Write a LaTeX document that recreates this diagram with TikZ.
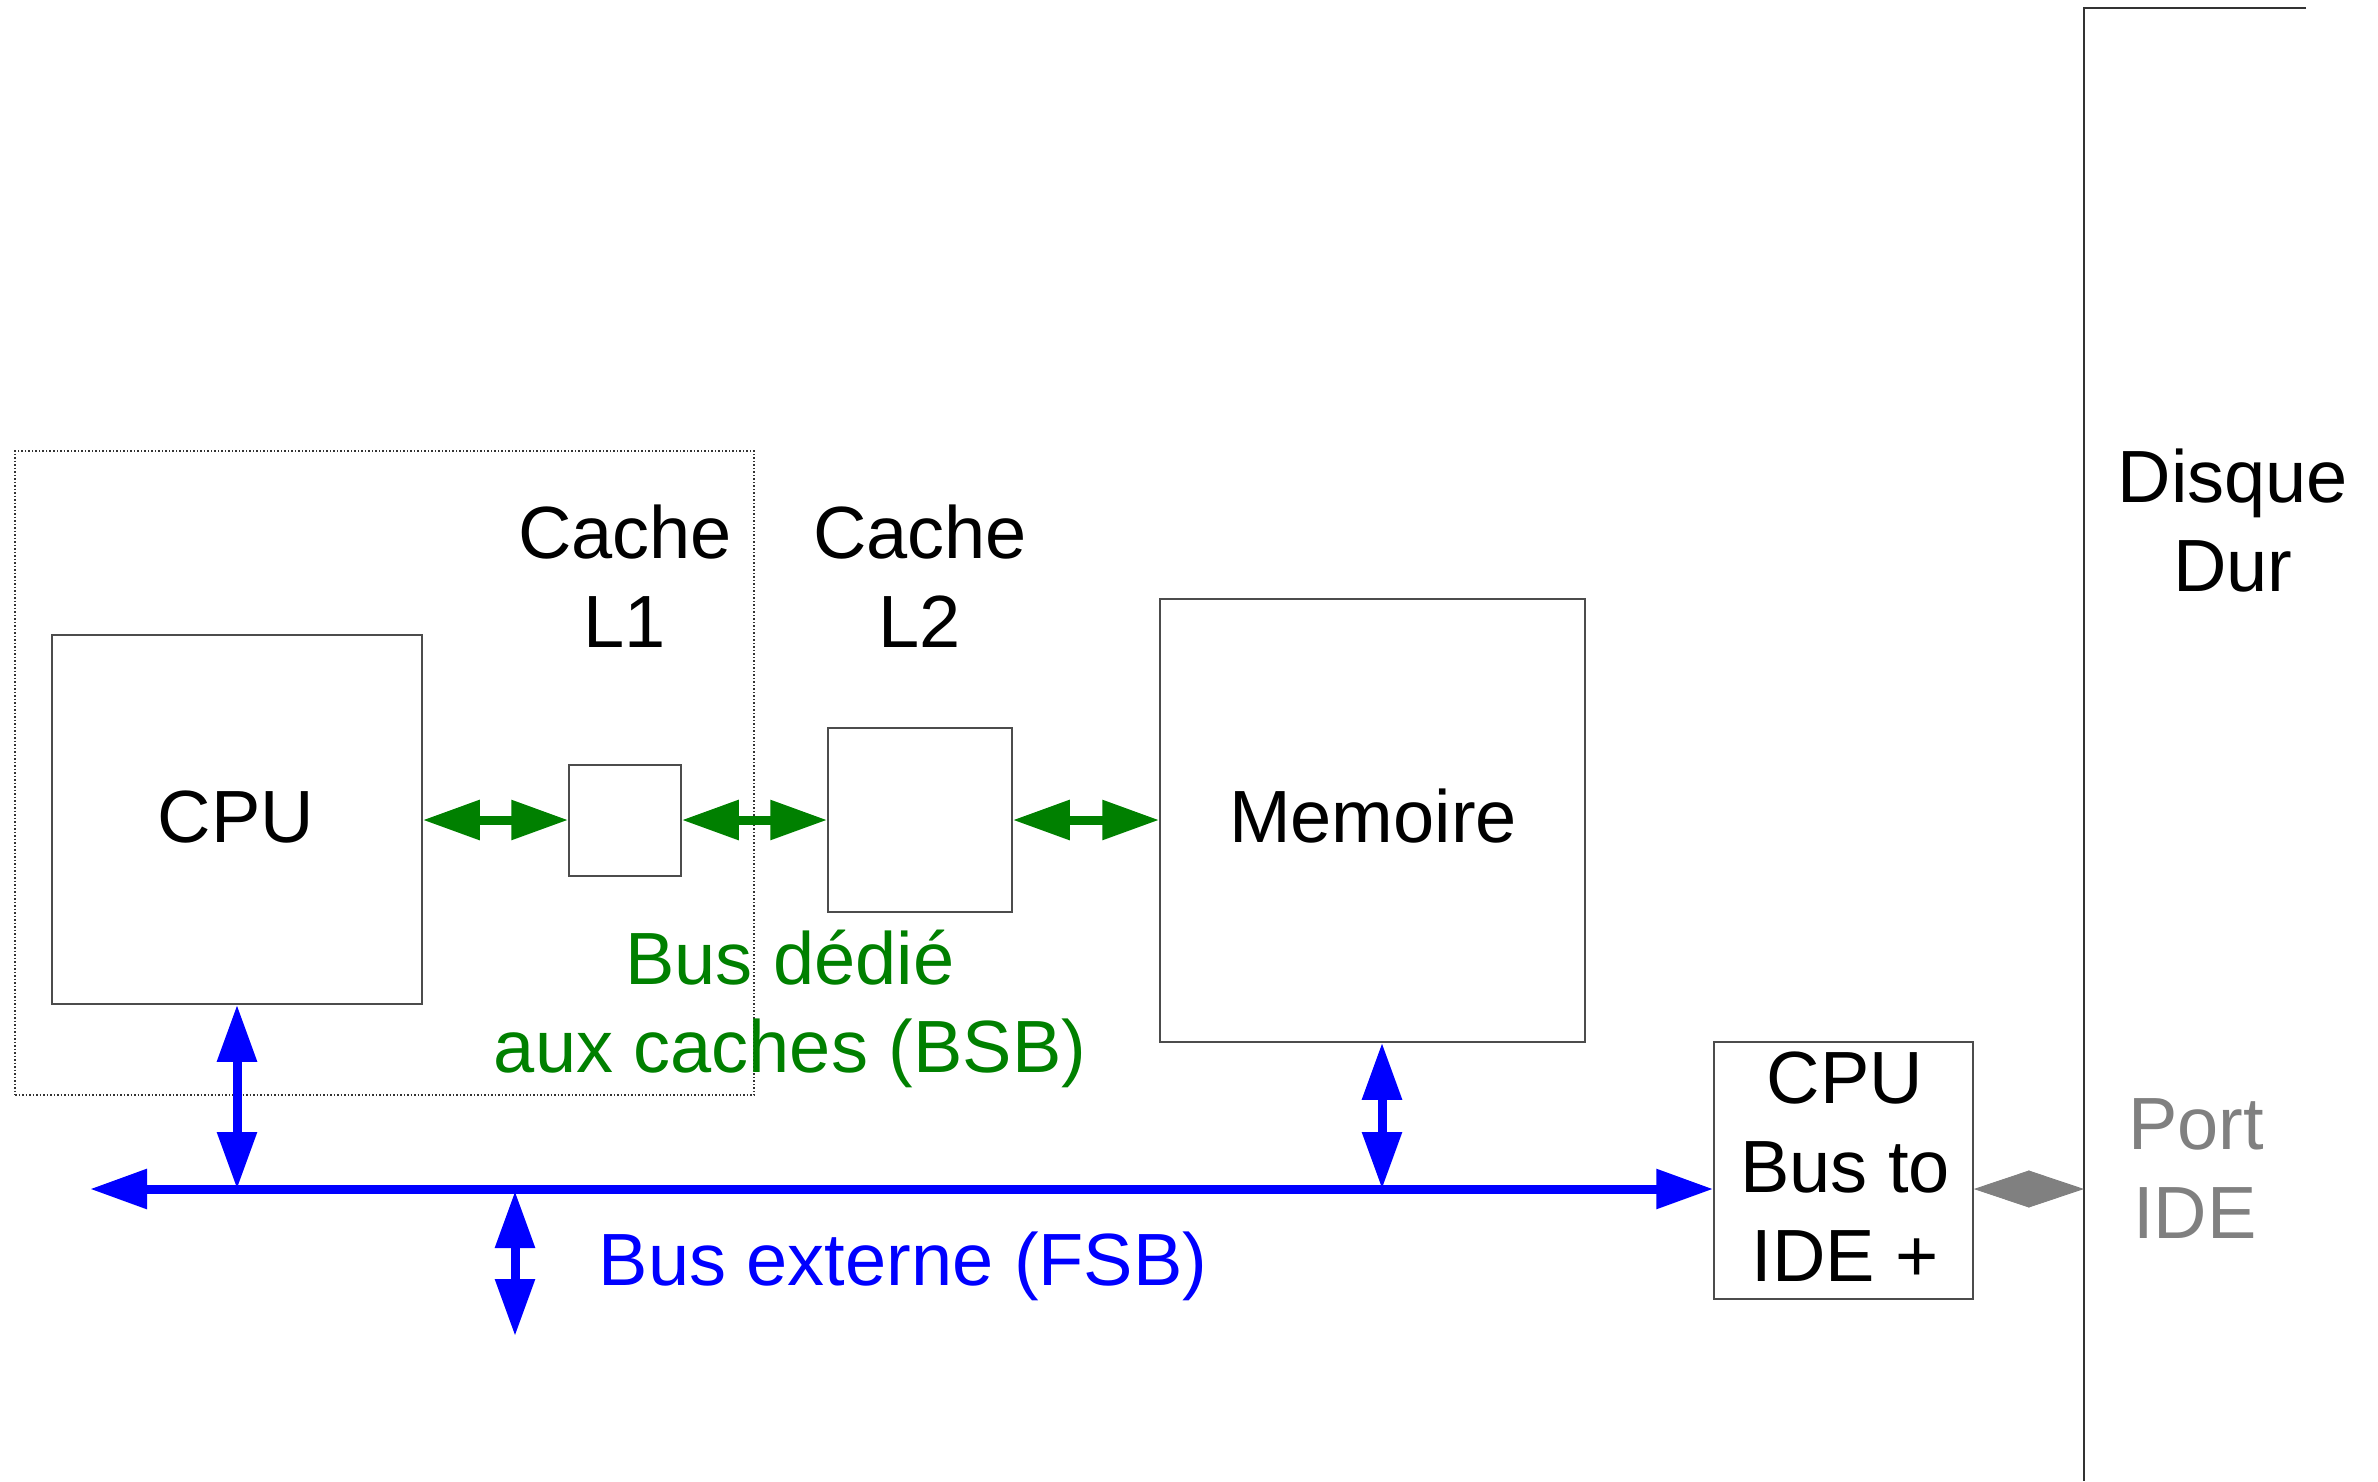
\documentclass[tikz,border=0pt]{standalone}
\usepackage{fontspec}
\setmainfont{Liberation Sans}
\usetikzlibrary{arrows.meta}
\definecolor{busblue}{RGB}{0,0,255}
\definecolor{bsbgreen}{RGB}{0,128,0}
\definecolor{idegray}{RGB}{128,128,128}
\begin{document}
\begin{tikzpicture}[x=1pt,y=1pt,
  box/.style={draw=black!70, line width=1.5pt, inner sep=0pt},
  lbl/.style={inner sep=0pt, anchor=base, font=\fontsize{74}{89}\selectfont},
  bigarrow/.style={line width=9pt, arrows={Triangle[length=57pt,width=38pt]-Triangle[length=57pt,width=38pt]}},
  greenarrow/.style={bigarrow, draw=bsbgreen, fill=bsbgreen},
  bluearrow/.style={bigarrow, draw=busblue, fill=busblue},
  greyarrow/.style={line width=1pt, draw=idegray, fill=idegray, arrows={Triangle[length=55.5pt,width=37pt]-Triangle[length=55.5pt,width=37pt]}}
]
\useasboundingbox (0,0) rectangle (2378,-1481);

% dotted frame round the processor
\node[draw=black!80, dotted, line width=1.5pt, inner sep=0pt, minimum width=739pt, minimum height=644pt] (frame) at (384.5,-773) {};

% boxes
\node[box, minimum width=370pt, minimum height=369pt] (cpu) at (237,-819.5) {};
\node[box, minimum width=112pt, minimum height=111pt] (l1) at (625,-820.5) {};
\node[box, minimum width=184pt, minimum height=184pt] (l2) at (920,-820) {};
\node[box, minimum width=425pt, minimum height=443pt] (mem) at (1372.5,-820.5) {};
\node[box, minimum width=259pt, minimum height=257pt] (ide) at (1843.5,-1170.5) {};

% hard disk
\coordinate (dtopr) at (2306,-8);
\coordinate (dtopl) at (2084,-8);
\coordinate (dbot) at (2084,-1481);
\draw[black!80, line width=2pt] (dtopr) -- (dtopl) -- (dbot);

% texts
\node[lbl] (tcpu) at (236,-842) {CPU};
\node[lbl] (tl1a) at (625,-558) {Cache};
\node[lbl] (tl1b) at (625,-647) {L1};
\node[lbl] (tl2a) at (920,-558) {Cache};
\node[lbl] (tl2b) at (920,-647) {L2};
\node[lbl] (tmem) at (1373,-842) {Memoire};
\node[lbl, text=bsbgreen] (tbsba) at (790,-984) {Bus dédié};
\node[lbl, text=bsbgreen] (tbsbb) at (790,-1072) {aux caches (BSB)};
\node[lbl, text=busblue] (tfsb) at (903,-1285) {Bus externe (FSB)};
\node[lbl] (tidea) at (1845,-1103) {CPU};
\node[lbl] (tideb) at (1845,-1192) {Bus to};
\node[lbl] (tidec) at (1845,-1281) {IDE +};
\node[lbl] (tdisa) at (2233,-502) {Disque};
\node[lbl] (tdisb) at (2233,-591) {Dur};
\node[lbl, text=idegray] (tporta) at (2196,-1149) {Port};
\node[lbl, text=idegray] (tportb) at (2195,-1238) {IDE};

% back side bus
\draw[greenarrow] (cpu.east |- 0,-820) -- (l1.west |- 0,-820);
\draw[greenarrow] (l1.east |- 0,-820) -- (l2.west |- 0,-820);
\draw[greenarrow] (l2.east |- 0,-820) -- (mem.west |- 0,-820);

% front side bus
\coordinate (busl) at (90,-1189);
\coordinate (fsbtap) at (515,-1191);
\coordinate (fsbend) at (515,-1336);
\draw[bluearrow] (busl) -- (busl -| ide.west);
\draw[bluearrow] (cpu.south) -- (cpu.south |- busl);
\draw[bluearrow] ([xshift=9.5pt]mem.south) -- ([xshift=9.5pt]mem.south |- busl);
\draw[bluearrow] (fsbtap) -- (fsbend);

% IDE port
\draw[greyarrow] (ide.east |- busl) -- (dbot |- busl);
\end{tikzpicture}
\end{document}
